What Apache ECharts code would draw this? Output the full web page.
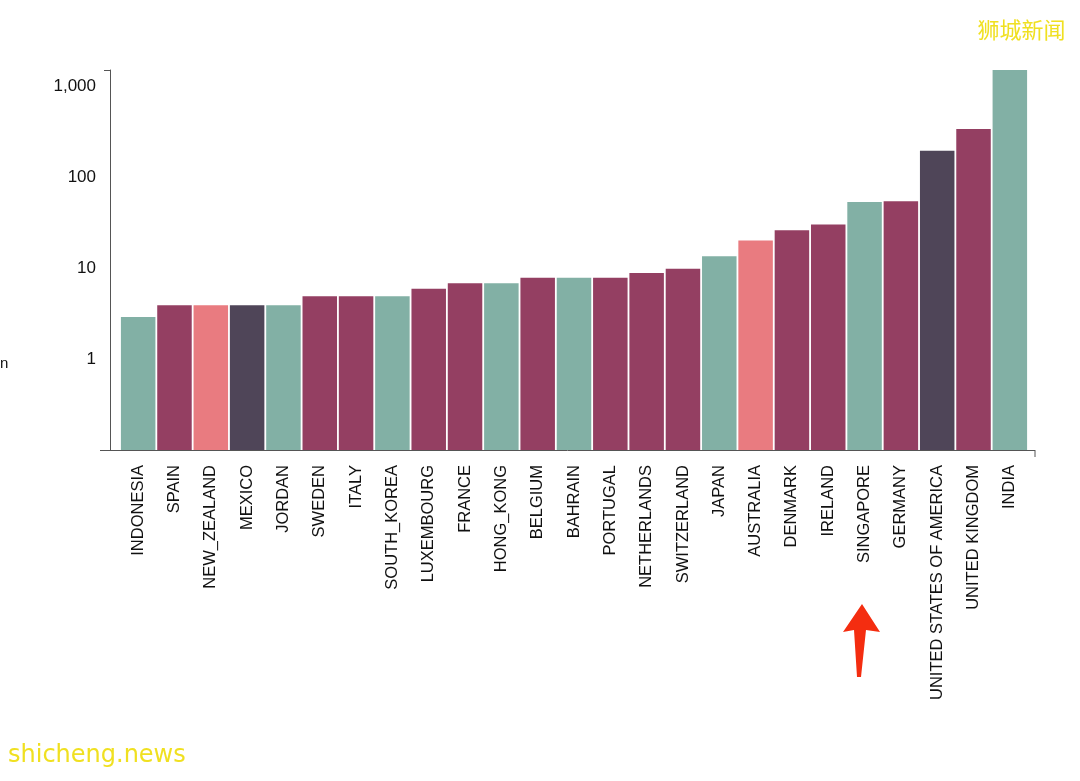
<!DOCTYPE html><html><head><meta charset="utf-8">
<script src="https://cdn.jsdelivr.net/npm/echarts@6/dist/echarts.min.js"></script>
<style>html,body{margin:0;background:#fff}#c{width:1080px;height:781px}</style></head><body><div id="c"></div>
<script>
const categories=["INDONESIA","SPAIN","NEW_ZEALAND","MEXICO","JORDAN","SWEDEN","ITALY","SOUTH_KOREA","LUXEMBOURG","FRANCE","HONG_KONG","BELGIUM","BAHRAIN","PORTUGAL","NETHERLANDS","SWITZERLAND","JAPAN","AUSTRALIA","DENMARK","IRELAND","SINGAPORE","GERMANY","UNITED STATES OF AMERICA","UNITED KINGDOM","INDIA"];
const values=[2.9,3.9,3.9,3.9,3.9,4.9,4.9,4.9,5.9,6.8,6.8,7.8,7.8,7.8,8.8,9.8,13.5,20,26,30,53,54,194,336,1500];
const groups=["t","m","p","d","t","m","m","t","m","m","t","m","t","m","m","m","t","p","m","m","t","m","d","m","t"];
const tickLabels=[1,10,100,1000];
const axisMin=0.1;
const palette={t:"#82B0A5",m:"#943F62",p:"#E97B80",d:"#4F4558"};
const chart=echarts.init(document.getElementById('c'));
chart.setOption({
 animation:false,
 grid:{left:120,right:52,top:70,bottom:331},
 xAxis:{type:'category',data:categories,axisTick:{show:false},
  axisLine:{show:false},
  axisLabel:{rotate:90,interval:0,fontSize:16.5,color:'#111',fontFamily:'Liberation Sans',margin:15}},
 yAxis:{type:'log',logBase:10,min:axisMin,max:1500,offset:10,splitLine:{show:false},
  axisLine:{show:true,lineStyle:{color:'#555'}},axisTick:{show:false},
  axisLabel:{fontSize:17,color:'#111',fontFamily:'Liberation Sans',margin:14,
   formatter:v=>{const r=tickLabels.find(t=>Math.abs(t-v)<t*1e-6);return r?r.toLocaleString('en-US'):'';}}},
 series:[
  {type:'bar',stack:'s',barCategoryGap:'5%',silent:true,itemStyle:{color:'rgba(0,0,0,0)'},data:values.map(()=>axisMin)},
  {type:'bar',stack:'s',barCategoryGap:'5%',
  data:values.map((v,i)=>({value:v-axisMin,itemStyle:{color:palette[groups[i]]}}))}],
 graphic:[
  {type:'line',shape:{x1:100,y1:450.5,x2:1035,y2:450.5},style:{stroke:'#555',lineWidth:1}},
  {type:'line',shape:{x1:1035,y1:450,x2:1035,y2:457},style:{stroke:'#555',lineWidth:1}},
  {type:'line',shape:{x1:104,y1:70.5,x2:110,y2:70.5},style:{stroke:'#555',lineWidth:1}},
  {type:'text',left:0,top:356,style:{text:'n',fontSize:15,fill:'#111',fontFamily:'Liberation Sans'}},
  {type:'text',right:14,top:18,style:{text:'狮城新闻',fontSize:22,fill:'#f0e020',fontFamily:'Noto Sans CJK SC',stroke:'#fff',lineWidth:1}},
  {type:'text',left:8,top:744,style:{text:'shicheng.news',fontSize:24,fill:'#f0e020',fontFamily:'DejaVu Sans'}},
  {type:'polygon',shape:{points:[[862,604],[880,632],[866,630],[861,677],[857,677],[854,630],[843,632]]},style:{fill:'#f42d10'}}
 ]
});
</script></body></html>
